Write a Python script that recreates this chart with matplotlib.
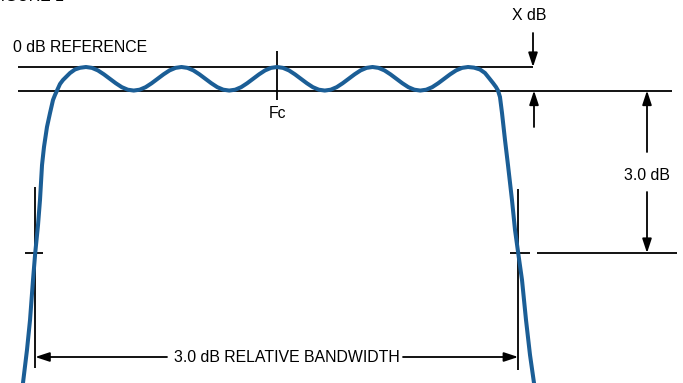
import matplotlib
matplotlib.use("Agg")
import matplotlib.pyplot as plt

plt.rcParams['font.family'] = ['Liberation Sans', 'DejaVu Sans']

# ---- data (frequency offset units from Fc, level in dB) ----
freq = [-42.7, -42.55, -41.88, -41.37, -40.87, -40.5, -40.03, -39.70, -39.36,
        -39.03, -38.53, -38.02, -37.52, -37.19, -36.85, -36.35, -35.85, -35.34,
        -34.67, -33.84, -33.0,
        -32, -31, -30, -29, -28, -27, -26, -25, -24, -23, -22, -21, -20, -19, -18,
        -17, -16, -15, -14, -13, -12, -11, -10, -9, -8, -7, -6, -5, -4, -3, -2, -1,
        0, 1, 2, 3, 4, 5, 6, 7, 8, 9, 10, 11, 12, 13, 14, 15, 16, 17, 18, 19, 20,
        21, 22, 23, 24, 25, 26, 27, 28, 29, 30, 31, 32,
        33.0, 34.0, 34.84, 35.51, 36.18, 36.68, 37.02, 37.35, 37.69, 38.19, 38.69,
        39.36, 39.87, 40.4, 41.04, 41.71, 42.38, 43.05, 43.2]
ripple_cycle = [0.0, -0.014, -0.055, -0.118, -0.19, -0.262, -0.325, -0.366,
                -0.38, -0.366, -0.325, -0.262, -0.19, -0.118, -0.055, -0.014]
level = ([-5.35, -5.097, -4.565, -4.081, -3.435, -3.0, -2.548, -2.145, -1.581,
          -1.290, -0.968, -0.742, -0.532, -0.452, -0.38, -0.274, -0.210, -0.161,
          -0.097, -0.040, -0.013]
         + ripple_cycle * 4 + [0.0]
         + [-0.010, -0.040, -0.097, -0.177, -0.258, -0.323, -0.38, -0.484, -0.742,
            -1.177, -1.581, -2.145, -2.629, -3.0, -3.435, -4.081, -4.645, -5.097,
            -5.35])

ripple_db = -0.38          # X dB ripple
ref_db = 0.0               # 0 dB reference
cutoff_db = -3.0           # 3 dB level
f_low, f_high = -40.5, 40.4  # 3 dB band edges
fc = 0.0

labels = {
    'ref': '0 dB REFERENCE',
    'xdb': 'X dB',
    'fc': 'Fc',
    'db3': '3.0 dB',
    'bw': '3.0 dB RELATIVE BANDWIDTH',
    'fig': 'FIGURE 1',
}

# ---- figure ----
W, H = 683, 383
fig = plt.figure(figsize=(W / 100, H / 100), dpi=100)
ax = fig.add_axes([0, 0, 1, 1])
X0, SX, Y0, SY = 277.0, 5.97, 67.0, 62.0
ax.set_xlim((0 - X0) / SX, (W - X0) / SX)
ax.set_ylim((Y0 - H) / SY, (Y0 - 0) / SY)
ax.axis('off')


def ux(px):
    return (px - X0) / SX


def uy(py):
    return (Y0 - py) / SY


blk = dict(color='black', lw=1.3, solid_capstyle='butt')
# reference lines
ax.plot([ux(18), ux(533)], [ref_db, ref_db], **blk)
ax.plot([ux(18), ux(672)], [ripple_db, ripple_db], **blk)
# Fc marker
ax.plot([fc, fc], [uy(51), uy(100)], **blk)
# 3 dB verticals
ax.plot([f_low, f_low], [uy(187), uy(368)], **blk)
ax.plot([f_high, f_high], [uy(189), uy(370)], **blk)
# ticks at 3 dB
ax.plot([ux(25), ux(43)], [cutoff_db, cutoff_db], **blk)
ax.plot([ux(510), ux(530)], [cutoff_db, cutoff_db], **blk)
ax.plot([ux(537), ux(677)], [cutoff_db, cutoff_db], **blk)

# curve
ax.plot(freq, level, color='#1b5e96', lw=2.9, solid_joinstyle='round',
        solid_capstyle='butt', zorder=3)

ap = dict(arrowstyle='-|>,head_length=0.85,head_width=0.28', color='black',
          lw=1.3, shrinkA=0, shrinkB=0, mutation_scale=10)


def arrow(x0, y0, x1, y1):
    ax.annotate('', xy=(x1, y1), xytext=(x0, y0), arrowprops=ap)


# X dB arrows
xa = ux(533)
arrow(xa, uy(33), xa, ref_db)
arrow(ux(534), uy(127), ux(534), ripple_db)
# 3.0 dB arrows
xb = ux(647)
arrow(xb, uy(152), xb, ripple_db)
arrow(xb, uy(192), xb, cutoff_db)
# bandwidth arrows
yb = uy(357)
arrow(ux(167), yb, f_low, yb)
arrow(ux(403), yb, f_high, yb)

fs = 11.4
ax.text(ux(13), uy(48), labels['ref'], fontsize=fs, ha='left', va='center')
ax.text(ux(529.5), uy(16), labels['xdb'], fontsize=fs, ha='center', va='center')
ax.text(fc, uy(114), labels['fc'], fontsize=fs, ha='center', va='center')
ax.text(ux(647), uy(175), labels['db3'], fontsize=fs, ha='center', va='center')
ax.text(ux(286.5), yb, labels['bw'], fontsize=fs, ha='center', va='center')
ax.text(ux(-9), uy(1.2), labels['fig'], fontsize=fs, ha='left', va='baseline')

fig.savefig('out.png', dpi=100)
